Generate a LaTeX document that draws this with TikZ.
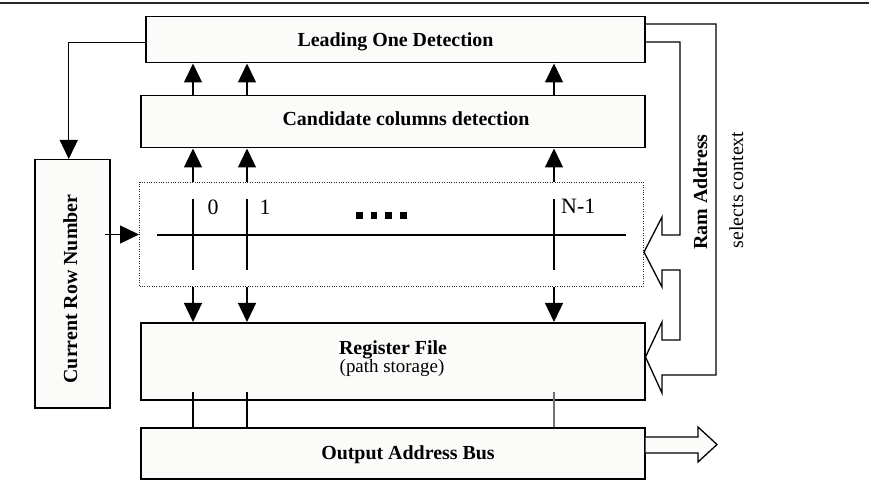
\documentclass[tikz,border=0pt]{standalone}
\usepackage{fontspec}
\setmainfont{Liberation Serif}
\usetikzlibrary{arrows.meta}
\definecolor{boxfill}{RGB}{251,251,249}
\tikzset{
  blk/.style={draw, line width=1.5bp, fill=boxfill, inner sep=0pt, anchor=north west},
  gridbox/.style={draw=black!85, line width=1bp, dash pattern=on 1bp off 1.4bp, inner sep=0pt, anchor=north west},
  conn/.style={line width=1.3bp},
  tri/.style={-{Triangle[width=18bp,length=19bp]}},
  bold/.style={font=\fontsize{20}{24}\selectfont\bfseries, inner sep=0pt, anchor=base},
  plain/.style={font=\fontsize{20}{24}\selectfont, inner sep=0pt, anchor=base},
  lbl/.style={font=\fontsize{22}{26}\selectfont, inner sep=0pt, anchor=base},
}
\begin{document}
\begin{tikzpicture}[x=1bp,y=-1bp]
\useasboundingbox (0,0) rectangle (869,482);

% rule across the top
\draw[line width=1.8bp, black!85] (0,3) -- (869,3);

% column positions
\coordinate (k0) at (193,0);
\coordinate (k1) at (247,0);
\coordinate (k2) at (554,0);

% blocks
\node[blk, minimum width=499bp, minimum height=46bp] (lod) at (145,16) {};
\node[blk, minimum width=504bp, minimum height=52bp] (cand) at (140,95) {};
\node[gridbox, minimum width=504bp, minimum height=104bp] (grid) at (139,182) {};
\node[blk, minimum width=504bp, minimum height=77bp] (reg) at (140,322) {};
\node[blk, minimum width=504bp, minimum height=51bp] (out) at (140,427) {};
\node[blk, minimum width=75bp, minimum height=248bp] (crn) at (34,159) {};

% block titles
\node[bold] (tlod) at (395.5,47) {Leading One Detection};
\node[bold] (tcand) at (406,126) {Candidate columns detection};
\node[bold] (treg) at (393,354) {Register File};
\node[plain, font=\fontsize{19}{22}\selectfont] (treg2) at (392,372) {(path storage)};
\node[bold] (tout) at (408,459) {Output Address Bus};
\node[bold, rotate=90] (tcrn) at (77,289) {Current Row Number};
\node[bold, rotate=90] (tram) at (707,192) {Ram Address};
\node[plain, rotate=90] (tsel) at (743,190) {selects context};

% row line and column lines inside the dotted block
\draw[conn] (157,235) -- (626,235);
\foreach \k in {k0,k1,k2}{
  \draw[conn] (\k |- 0,199) -- (\k |- 0,270);
}
\node[lbl] (l0) at (213,215) {0};
\node[lbl] (l1) at (265,215) {1};
\node[lbl, anchor=base west] (l2) at (561,214) {N-1};
\foreach \i in {0,1,2,3}{
  \fill (356+14.7*\i,212) rectangle +(6.5,7.5);
}

% column connectors
\foreach \k in {k0,k1,k2}{
  \draw[conn,tri] (grid.north -| \k) -- (cand.south -| \k);
  \draw[conn,tri] (cand.north -| \k) -- (lod.south -| \k);
  \draw[conn,tri] (grid.south -| \k) -- (reg.north -| \k);
}
\draw[conn] (k0 |- 0,392) -- (out.north -| k0);
\draw[conn] (k1 |- 0,392) -- (out.north -| k1);
\draw[conn, black!55] (k2 |- 0,392) -- (out.north -| k2);

% row number feedback
\draw[conn,tri] ([yshift=-3bp]lod.west) -| ([xshift=-3.5bp]crn.north);
\draw[conn,tri] ([xshift=-6bp]crn.east |- grid.west) -- (grid.west);

% RAM address bus with its two hollow arrows
\draw[conn, line join=miter]
  (lod.east |- 0,24) -- (716,24) -- (716,375) -- (662,375) -- (662,393)
  -- (reg.east |- 0,357) -- (662,322) -- (662,340) -- (680,340) -- (680,270)
  -- (662,270) -- (662,287) -- (grid.east |- 0,252) -- (662,217) -- (662,235)
  -- (680,235) -- (680,42) -- (lod.east |- 0,42);

% output bus arrow
\draw[conn, fill=boxfill, line join=miter]
  (out.east |- 0,437) -- (698,437) -- (698,427) -- (717,444.5)
  -- (698,462) -- (698,453) -- (out.east |- 0,453);
\end{tikzpicture}
\end{document}
